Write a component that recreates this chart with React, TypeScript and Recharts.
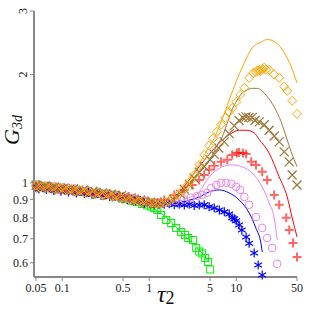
import React from "react";
import { ScatterChart, Scatter, XAxis, YAxis, Label } from "recharts";

// ---- tick labels ----
const xTicks = [0.05, 0.1, 0.5, 1, 5, 10, 50];
const yTicks = [0.6, 0.7, 0.8, 0.9, 1, 2, 3];

// ---- series (tau2, G3d) ----
const greenSquares: number[][] = [
  [0.05, 0.99], [0.057, 0.975], [0.066, 0.978], [0.075, 0.97], [0.086, 0.965], [0.1, 0.962],
  [0.115, 0.955], [0.13, 0.957], [0.15, 0.948], [0.17, 0.946], [0.2, 0.94], [0.23, 0.938],
  [0.27, 0.935], [0.31, 0.93], [0.36, 0.928], [0.41, 0.924], [0.47, 0.912], [0.54, 0.9],
  [0.62, 0.892], [0.72, 0.884], [0.83, 0.874], [0.95, 0.866], [1.05, 0.86], [1.14, 0.852],
  [1.24, 0.841], [1.37, 0.815], [1.57, 0.789], [1.79, 0.774], [2.04, 0.75], [2.33, 0.73],
  [2.59, 0.717], [2.81, 0.703], [3.2, 0.694], [3.47, 0.66], [3.76, 0.645], [4.06, 0.637],
  [4.4, 0.619], [4.76, 0.603], [5.02, 0.575],
];
const blueStars: number[][] = [
  [0.05, 0.975], [0.054, 0.962], [0.06, 0.978], [0.066, 0.958], [0.073, 0.972], [0.08, 0.952],
  [0.088, 0.965], [0.097, 0.948], [0.107, 0.962], [0.118, 0.944], [0.13, 0.955], [0.145, 0.938],
  [0.16, 0.952], [0.18, 0.934], [0.2, 0.944], [0.22, 0.928], [0.25, 0.938], [0.28, 0.922],
  [0.31, 0.93], [0.35, 0.916], [0.4, 0.924], [0.45, 0.908], [0.5, 0.916], [0.56, 0.9],
  [0.63, 0.904], [0.7, 0.89], [0.79, 0.894], [0.88, 0.88], [1.0, 0.878], [1.14, 0.874],
  [1.3, 0.869], [1.49, 0.872], [1.7, 0.875], [1.94, 0.87], [2.21, 0.873], [2.53, 0.868],
  [2.88, 0.872], [3.29, 0.866], [3.76, 0.868], [4.29, 0.869], [4.89, 0.858], [5.59, 0.852],
  [6.4, 0.841], [7.3, 0.831], [8.3, 0.82], [9.0, 0.8], [9.5, 0.795], [10, 0.785], [10.8, 0.764],
  [11.6, 0.74], [13, 0.708], [14.1, 0.68], [16.1, 0.639], [17.9, 0.592], [19.9, 0.555],
];
const violetCircles: number[][] = [
  [0.05, 0.99], [0.058, 0.98], [0.067, 0.97], [0.077, 0.978], [0.09, 0.964], [0.105, 0.97],
  [0.12, 0.956], [0.14, 0.964], [0.16, 0.95], [0.19, 0.952], [0.22, 0.94], [0.26, 0.942],
  [0.3, 0.932], [0.35, 0.932], [0.41, 0.92], [0.48, 0.92], [0.56, 0.906], [0.65, 0.908],
  [0.76, 0.893], [0.88, 0.892], [1.02, 0.882], [1.15, 0.88], [1.3, 0.88], [1.6, 0.885],
  [2.0, 0.89], [2.5, 0.9], [3.0, 0.91], [3.56, 0.92], [4.06, 0.926], [4.64, 0.938],
  [5.16, 0.968], [5.9, 0.987], [6.7, 1.0], [7.7, 1.0], [8.8, 0.994], [10, 0.975], [11.1, 0.956],
  [12.4, 0.914], [14.1, 0.869], [16.9, 0.804], [19.9, 0.75], [22.7, 0.703], [25.9, 0.66],
  [29.6, 0.596],
];
const redPluses: number[][] = [
  [0.05, 0.978], [0.055, 0.986], [0.061, 0.968], [0.068, 0.98], [0.076, 0.962], [0.085, 0.974],
  [0.095, 0.956], [0.106, 0.968], [0.12, 0.951], [0.135, 0.962], [0.15, 0.944], [0.17, 0.956],
  [0.19, 0.938], [0.215, 0.948], [0.24, 0.93], [0.27, 0.942], [0.31, 0.924], [0.35, 0.934],
  [0.4, 0.916], [0.45, 0.926], [0.51, 0.906], [0.58, 0.916], [0.66, 0.896], [0.75, 0.902],
  [0.85, 0.884], [0.97, 0.89], [1.1, 0.876], [1.25, 0.882], [1.49, 0.897], [1.94, 0.926],
  [2.53, 0.956], [3.12, 0.987], [3.76, 1.019], [4.29, 1.052], [4.89, 1.087], [5.59, 1.115],
  [6.7, 1.144], [7.9, 1.159], [9, 1.196], [10.2, 1.21], [10.8, 1.215], [12, 1.21], [13, 1.203],
  [14.9, 1.144], [16.9, 1.122], [19.9, 1.073], [22.7, 1.019], [27.3, 0.926], [31.2, 0.869],
  [37.6, 0.8], [40.7, 0.74], [45, 0.681], [50, 0.623],
];
const brownCrosses: number[][] = [
  [0.05, 0.984], [0.057, 0.968], [0.064, 0.98], [0.072, 0.964], [0.082, 0.974], [0.093, 0.958],
  [0.105, 0.968], [0.12, 0.952], [0.135, 0.962], [0.155, 0.946], [0.175, 0.954], [0.2, 0.938],
  [0.225, 0.948], [0.255, 0.93], [0.29, 0.938], [0.33, 0.922], [0.37, 0.93], [0.42, 0.914],
  [0.48, 0.922], [0.54, 0.904], [0.62, 0.908], [0.7, 0.892], [0.8, 0.896], [0.9, 0.882],
  [1.03, 0.884], [1.17, 0.874], [1.32, 0.878], [1.5, 0.885], [1.9, 0.9], [2.3, 0.93],
  [2.53, 0.96], [2.9, 0.99], [3.29, 1.03], [3.76, 1.07], [4.29, 1.11], [5.0, 1.16], [5.6, 1.2],
  [6.3, 1.25], [7.28, 1.3], [8.31, 1.37], [9.49, 1.44], [10.8, 1.49], [12, 1.515], [13, 1.525],
  [14, 1.52], [15.3, 1.52], [16.5, 1.49], [18.4, 1.477], [21, 1.45], [23.9, 1.4], [27.3, 1.35],
  [31.2, 1.3], [35.6, 1.219], [40.7, 1.144], [44, 1.052], [50, 0.987],
];
const orangeDiamonds: number[][] = [
  [0.05, 0.982], [0.056, 0.97], [0.063, 0.982], [0.071, 0.965], [0.08, 0.976], [0.09, 0.958],
  [0.1, 0.97], [0.113, 0.953], [0.127, 0.963], [0.143, 0.947], [0.16, 0.954], [0.18, 0.94],
  [0.2, 0.95], [0.23, 0.934], [0.26, 0.94], [0.29, 0.926], [0.33, 0.932], [0.37, 0.916],
  [0.42, 0.922], [0.47, 0.908], [0.53, 0.912], [0.6, 0.896], [0.67, 0.902], [0.75, 0.886],
  [0.85, 0.892], [0.95, 0.878], [1.07, 0.882], [1.2, 0.874], [1.35, 0.878], [1.5, 0.882],
  [1.7, 0.892], [1.9, 0.905], [2.15, 0.925], [2.4, 0.95], [2.7, 0.98], [3.0, 1.015],
  [3.29, 1.052], [3.76, 1.122], [4.29, 1.196], [4.89, 1.27], [5.44, 1.33], [6.0, 1.386],
  [6.7, 1.45], [7.5, 1.515], [8.31, 1.575], [9.0, 1.615], [10, 1.679], [11.1, 1.756],
  [12.4, 1.837], [14.1, 1.957], [15.7, 2.02], [16.9, 2.03], [17.5, 2.05], [18.4, 2.06],
  [19.0, 2.04], [19.4, 2.06], [20.2, 2.07], [21, 2.09], [22, 2.06], [23.9, 2.06], [27.3, 2.0],
  [31.2, 1.957], [35.6, 1.85], [38.6, 1.8], [44, 1.69], [50, 1.555],
];

// ---- theory curves ----
const greenCurve: number[][] = [
  [1, 0.869], [1.3, 0.83], [1.7, 0.789], [2.21, 0.74], [2.88, 0.694], [3.76, 0.652], [4.89, 0.603],
];
const blueCurve: number[][] = [
  [1.5, 0.872], [2.21, 0.88], [2.88, 0.895], [3.76, 0.914], [4.89, 0.944], [6.38, 0.956],
  [8.31, 0.938], [10.8, 0.897], [14.1, 0.825], [16.8, 0.75], [19.4, 0.673], [19.9, 0.643],
];
const violetCurve: number[][] = [
  [1.5, 0.875], [2.2, 0.89], [2.88, 0.91], [3.76, 0.945], [4.89, 1.039], [6.9, 1.108],
  [9, 1.122], [11.7, 1.108], [15.3, 1.066], [19.9, 0.975], [23.9, 0.88], [27.3, 0.8], [29.6, 0.694],
];
const redCurve: number[][] = [
  [1.3, 0.876], [1.7, 0.89], [2.2, 0.94], [2.88, 1.019], [3.76, 1.11], [4.89, 1.2], [6.38, 1.29],
  [8.31, 1.36], [10.8, 1.4], [13, 1.4], [16.1, 1.377], [18.4, 1.32], [23.9, 1.21], [31.2, 1.039],
  [38.6, 0.914], [44, 0.8], [50, 0.708],
];
const brownCurve: number[][] = [
  [1.3, 0.876], [1.7, 0.885], [2.21, 0.92], [2.88, 0.99], [3.76, 1.07], [4.5, 1.13], [5.16, 1.18],
  [6.0, 1.27], [6.9, 1.342], [8.0, 1.48], [9, 1.6], [10.3, 1.7], [11.7, 1.777], [13.3, 1.81],
  [14.9, 1.83], [17.4, 1.83], [19.8, 1.8], [22.2, 1.75], [27.3, 1.626], [32.9, 1.477],
  [37.6, 1.342], [42.9, 1.219], [46.4, 1.16], [50, 1.11],
];
const orangeCurve: number[][] = [
  [1.3, 0.876], [1.7, 0.89], [2.2, 0.93], [2.88, 1.01], [3.76, 1.13], [4.89, 1.26], [5.59, 1.33],
  [6.5, 1.45], [7.5, 1.58], [8.31, 1.7], [9.49, 1.848], [10.8, 2.0], [12.4, 2.155], [15.3, 2.37],
  [19.4, 2.46], [22.7, 2.5], [28.8, 2.45], [35.6, 2.3], [42.9, 2.1], [50, 1.895],
];

const toXY = (arr: number[][]) => arr.map(([x, y]) => ({ x, y }));

const GREEN = "#00ee00";
const BLUE = "#0000ff";
const VIOLET = "#ee82ee";
const RED = "#ff0000";
const BROWN = "#9c7a3c";
const ORANGE = "#ffa500";

const Square = (p: any) => (
  <rect x={p.cx - 3.5} y={p.cy - 3.5} width={7} height={7} fill="none" stroke={GREEN} strokeWidth={1} />
);
const Circle = (p: any) => <circle cx={p.cx} cy={p.cy} r={3.8} fill="none" stroke={VIOLET} strokeWidth={1} />;
const Diamond = (p: any) => (
  <path
    d={`M${p.cx},${p.cy - 4.5}L${p.cx + 4.5},${p.cy}L${p.cx},${p.cy + 4.5}L${p.cx - 4.5},${p.cy}Z`}
    fill="none"
    stroke={ORANGE}
    strokeWidth={1}
  />
);
const Plus = (p: any) => (
  <path
    d={`M${p.cx - 4.5},${p.cy}H${p.cx + 4.5}M${p.cx},${p.cy - 4.5}V${p.cy + 4.5}`}
    stroke={RED}
    strokeOpacity={0.6}
    strokeWidth={2}
  />
);
const Cross = (p: any) => (
  <path
    d={`M${p.cx - 4.5},${p.cy - 4.5}L${p.cx + 4.5},${p.cy + 4.5}M${p.cx - 4.5},${p.cy + 4.5}L${p.cx + 4.5},${p.cy - 4.5}`}
    stroke={BROWN}
    strokeWidth={1.3}
  />
);
const Star = (p: any) => (
  <path
    d={`M${p.cx},${p.cy - 4.5}V${p.cy + 4.5}M${p.cx - 3.9},${p.cy - 2.25}L${p.cx + 3.9},${p.cy + 2.25}M${p.cx - 3.9},${p.cy + 2.25}L${p.cx + 3.9},${p.cy - 2.25}`}
    stroke={BLUE}
    strokeWidth={1.2}
  />
);
const NoShape = () => <g />;

const FONT = "Liberation Serif";

const YTick = (p: any) => {
  const v = p.payload.value;
  if (v >= 2) {
    const cx = p.x - 1;
    return (
      <text x={cx} y={p.y} transform={`rotate(-90 ${cx} ${p.y})`} textAnchor="middle" fontFamily={FONT} fontSize={12} fill="#222">
        {v}
      </text>
    );
  }
  return (
    <text x={p.x} y={p.y} dy="0.35em" textAnchor="end" fontFamily={FONT} fontSize={12} fill="#222">
      {v}
    </text>
  );
};

const XTick = (p: any) => (
  <text x={p.x} y={p.y} dy="0.75em" textAnchor="middle" fontFamily={FONT} fontSize={12} fill="#222">
    {p.payload.value}
  </text>
);

export default function App() {
  const curve = (data: number[][], color: string, key: string) => (
    <Scatter
      key={key}
      data={toXY(data)}
      line={{ stroke: color, strokeWidth: 1 }}
      lineJointType="monotoneX"
      shape={NoShape}
      isAnimationActive={false}
    />
  );
  return (
    <div style={{ position: "absolute", left: 0, top: 0, width: 309, height: 309, background: "#fff" }}>
      <ScatterChart width={309} height={309} margin={{ top: 11, right: 12, bottom: 0, left: 0 }}>
        <XAxis
          type="number"
          dataKey="x"
          scale="log"
          domain={[0.0474, 50]}
          ticks={xTicks}
          interval={0}
          tick={<XTick />}
          tickSize={4}
          height={32}
          axisLine={{ stroke: "#888", strokeWidth: 2 }}
          tickLine={{ stroke: "#888" }}
        >
          <Label
            content={() => (
              <text x={157} y={302} fontFamily={FONT} fill="#111">
                <tspan fontSize={24} fontStyle="italic">τ</tspan>
                <tspan fontSize={18} dy={2}>2</tspan>
              </text>
            )}
          />
        </XAxis>
        <YAxis
          type="number"
          dataKey="y"
          scale="log"
          domain={[0.548, 3]}
          ticks={yTicks}
          interval={0}
          tick={<YTick />}
          tickSize={4}
          width={34}
          axisLine={{ stroke: "#888", strokeWidth: 2 }}
          tickLine={{ stroke: "#888" }}
        >
          <Label
            content={() => (
              <text x={19} y={130} transform="rotate(-90 19 130)" textAnchor="middle" fontFamily={FONT} fill="#111">
                <tspan fontSize={22} fontStyle="italic">G</tspan>
                <tspan fontSize={14} fontStyle="italic" dy={3}>3d</tspan>
              </text>
            )}
          />
        </YAxis>
        {curve(greenCurve, GREEN, "gc")}
        {curve(blueCurve, BLUE, "bc")}
        {curve(violetCurve, VIOLET, "vc")}
        {curve(redCurve, RED, "rc")}
        {curve(brownCurve, BROWN, "brc")}
        {curve(orangeCurve, ORANGE, "oc")}
        <Scatter data={toXY(greenSquares)} shape={Square} isAnimationActive={false} />
        <Scatter data={toXY(blueStars)} shape={Star} isAnimationActive={false} />
        <Scatter data={toXY(violetCircles)} shape={Circle} isAnimationActive={false} />
        <Scatter data={toXY(redPluses)} shape={Plus} isAnimationActive={false} />
        <Scatter data={toXY(brownCrosses)} shape={Cross} isAnimationActive={false} />
        <Scatter data={toXY(orangeDiamonds)} shape={Diamond} isAnimationActive={false} />
      </ScatterChart>
    </div>
  );
}
